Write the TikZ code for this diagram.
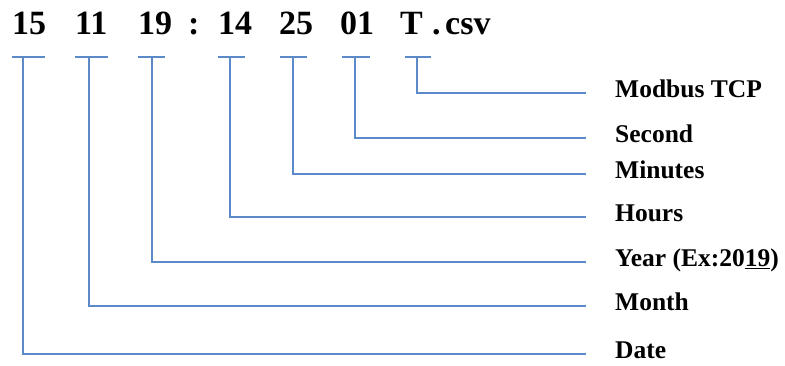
\documentclass[tikz,border=0pt]{standalone}
\usepackage{fontspec}
\setmainfont{Liberation Serif}
\definecolor{connblue}{HTML}{5A8AC8}
\begin{document}
\begin{tikzpicture}[x=1pt,y=-1pt,
  token/.style={anchor=base west,inner sep=0pt,font=\fontsize{34}{34}\selectfont\bfseries},
  lbl/.style={anchor=west,inner sep=0pt,text height=10pt,text depth=0pt,font=\fontsize{25.5}{26}\selectfont\bfseries},
  conn/.style={draw=connblue,line width=2.8pt},
  tbar/.style={draw=connblue,line width=2.8pt}]
\useasboundingbox (0,0) rectangle (785,366);

% file name tokens
\node[token] (tdate) at (12,35) {15};
\node[token] (tmonth) at (75,35) {11};
\node[token] (tyear) at (138,35) {19};
\node[token] (tcolon) at (188,35) {:};
\node[token] (thour) at (218,35) {14};
\node[token] (tmin) at (279,35) {25};
\node[token] (tsec) at (340,35) {01};
\node[token] (tmode) at (400,35) {T};
\node[token] (tdot) at (432,35) {.};
\node[token] (text) at (445,35) {csv};

% field names
\node[lbl] (lmode) at (615,93) {Modbus TCP};
\node[lbl] (lsec) at (615,138) {Second};
\node[lbl] (lmin) at (615,174) {Minutes};
\node[lbl] (lhour) at (615,217) {Hours};
\node[lbl] (lyear) at (615,262) {Year (Ex:20\underline{19})};
\node[lbl] (lmonth) at (615,306) {Month};
\node[lbl] (ldate) at (615,354) {Date};

% T-bars under each token: left end, right end, stem top
\foreach \n/\l/\r/\s in {date/12/45/23, month/75/108/89, year/138/165/152,
    hour/218/245/230, min/280/307/293, sec/342/370/355, mode/405/431/417}{
  \coordinate (b\n l) at (\l,57);
  \coordinate (b\n r) at (\r,57);
  \coordinate (s\n) at (\s,57);
  \path[tbar] (b\n l) -- (b\n r);
}

% connectors from each stem to its field name
\foreach \n in {date,month,year,hour,min,sec,mode}{
  \path[conn] (s\n) |- ([xshift=-29pt]l\n.west);
}
\end{tikzpicture}
\end{document}
